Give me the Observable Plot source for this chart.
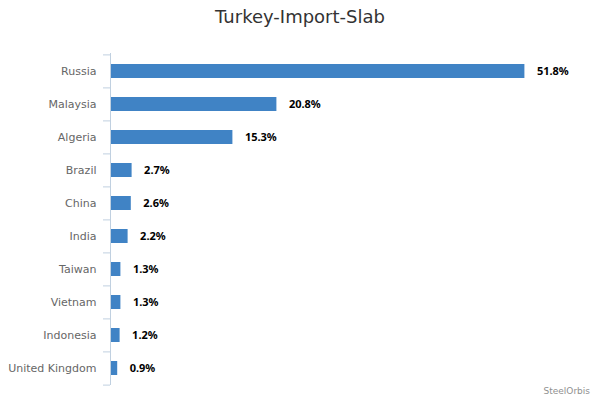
<!DOCTYPE html>
<html>
<head>
<meta charset="utf-8">
<script src="https://cdn.jsdelivr.net/npm/d3@7"></script>
<script src="https://cdn.jsdelivr.net/npm/@observablehq/plot@0.6"></script>
<style>
  body { margin: 0; background: #fff; }
  #wrap { position: relative; width: 600px; height: 400px; font-family: "DejaVu Sans", sans-serif; }
  #title { height: 40px; box-sizing: border-box; padding-top: 6px; text-align: center; font-size: 18px; color: #333; }
  #credit { position: absolute; right: 10px; top: 386px; font-size: 9px; color: #909090; }
</style>
</head>
<body>
<div id="wrap">
  <div id="title">Turkey-Import-Slab</div>
  <div id="chart"></div>
  <div id="credit">SteelOrbis</div>
</div>
<script>
const countries = ["Russia", "Malaysia", "Algeria", "Brazil", "China", "India", "Taiwan", "Vietnam", "Indonesia", "United Kingdom"];
const shares = [51.8, 20.8, 15.3, 2.7, 2.6, 2.2, 1.3, 1.3, 1.2, 0.9];

const data = countries.map((c, i) => ({country: c, value: shares[i]}));
const lastCountry = countries[countries.length - 1];
const half = 332 / countries.length / 2;

const chart = Plot.plot({
  width: 600,
  height: 360,
  marginTop: 13,
  marginBottom: 15,
  marginLeft: 110,
  marginRight: 10,
  style: {fontFamily: "DejaVu Sans", background: "#fff"},
  x: {domain: [0, 60], axis: null},
  y: {domain: countries, paddingInner: 0.58, paddingOuter: 0.29, label: null, axis: null},
  marks: [
    Plot.barX(data, {x: "value", y: "country", fill: "#4083c5"}),
    Plot.text(data, {x: "value", y: "country", text: d => d.value.toFixed(1) + "%", textAnchor: "start", dx: 12, fontWeight: "bold", fontSize: 11, fill: "#000", fontFamily: "Noto Sans"}),
    Plot.axisY({tickSize: 0, tickPadding: 14, fontSize: 11, color: "#666", label: null}),
    Plot.axisY({tickSize: 7, dy: -half, stroke: "#C0D0E0", fill: "none", label: null}),
    Plot.axisY([lastCountry], {tickSize: 7, dy: half, stroke: "#C0D0E0", fill: "none", label: null}),
    Plot.ruleX([0], {stroke: "#C0D0E0"})
  ]
});
document.getElementById("chart").appendChild(chart);
</script>
</body>
</html>
